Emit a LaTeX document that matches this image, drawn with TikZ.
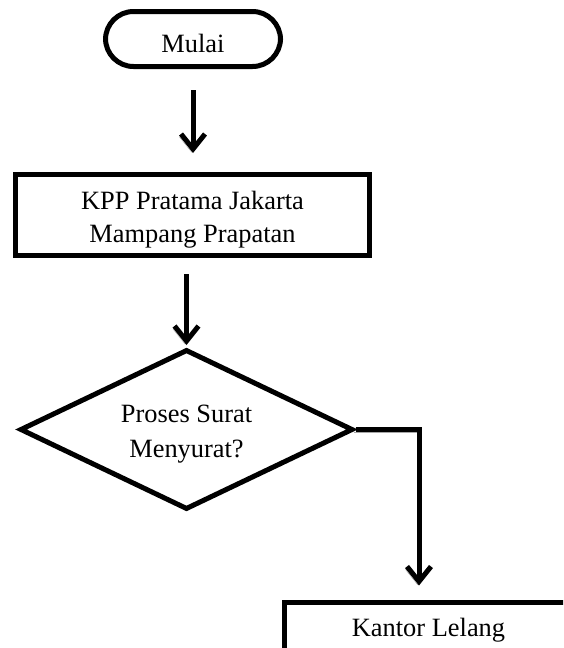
\documentclass[tikz,border=0pt]{standalone}
\usepackage{fontspec}
\setmainfont{Liberation Serif}
\usetikzlibrary{shapes.geometric,arrows.meta}
\begin{document}
\begin{tikzpicture}[x=1pt,y=-1pt]
		\tikzstyle{terminal}=[font=\fontsize{26.4}{33}\selectfont,draw,line width=5pt,rounded corners=28pt,minimum width=175pt,minimum height=55pt,text height=26pt,text depth=0pt]
		\tikzstyle{process}=[font=\fontsize{26.4}{33}\selectfont,draw,line width=5pt,align=center,inner sep=0pt]
		\tikzstyle{decision}=[font=\fontsize{26.4}{35}\selectfont,draw,line width=5pt,diamond,aspect=2.07,minimum width=333pt,minimum height=160pt,inner sep=0pt,align=center]
		\tikzstyle{flow}=[-{Straight Barb[length=15pt,width=24pt]},line width=5pt,preaction={draw=black!35,transform canvas={shift={(-1.5,3)}}}]
		\clip (0,0) rectangle (563,648);
		% nodes
		\node [terminal] at (193,39) (start) {Mulai};
		\node [process,minimum width=354pt,minimum height=81pt] at (192.5,215) (kpp) {\rule{0pt}{28pt}KPP Pratama Jakarta\\Mampang Prapatan};
		\node [decision] at (186.5,429.5) (cek) {\rule{0pt}{26pt}Proses Surat\\Menyurat?};
		\node [process,anchor=north,minimum width=288pt,text height=18pt,text depth=6pt,inner ysep=16pt] at (428.5,599.5) (kantor) {Kantor Lelang};
		\coordinate (drop) at ([xshift=-9.5pt]kantor.north);
		% flow
		\draw [flow,shorten <=21pt,shorten >=19pt] (start.south) -- (start.south |- kpp.north);
		\draw [flow,shorten <=16pt,shorten >=2pt] (cek.north |- kpp.south) -- (cek.north);
		\draw [flow,shorten >=14pt] (cek.east) -| (drop);
	\end{tikzpicture}
\end{document}
